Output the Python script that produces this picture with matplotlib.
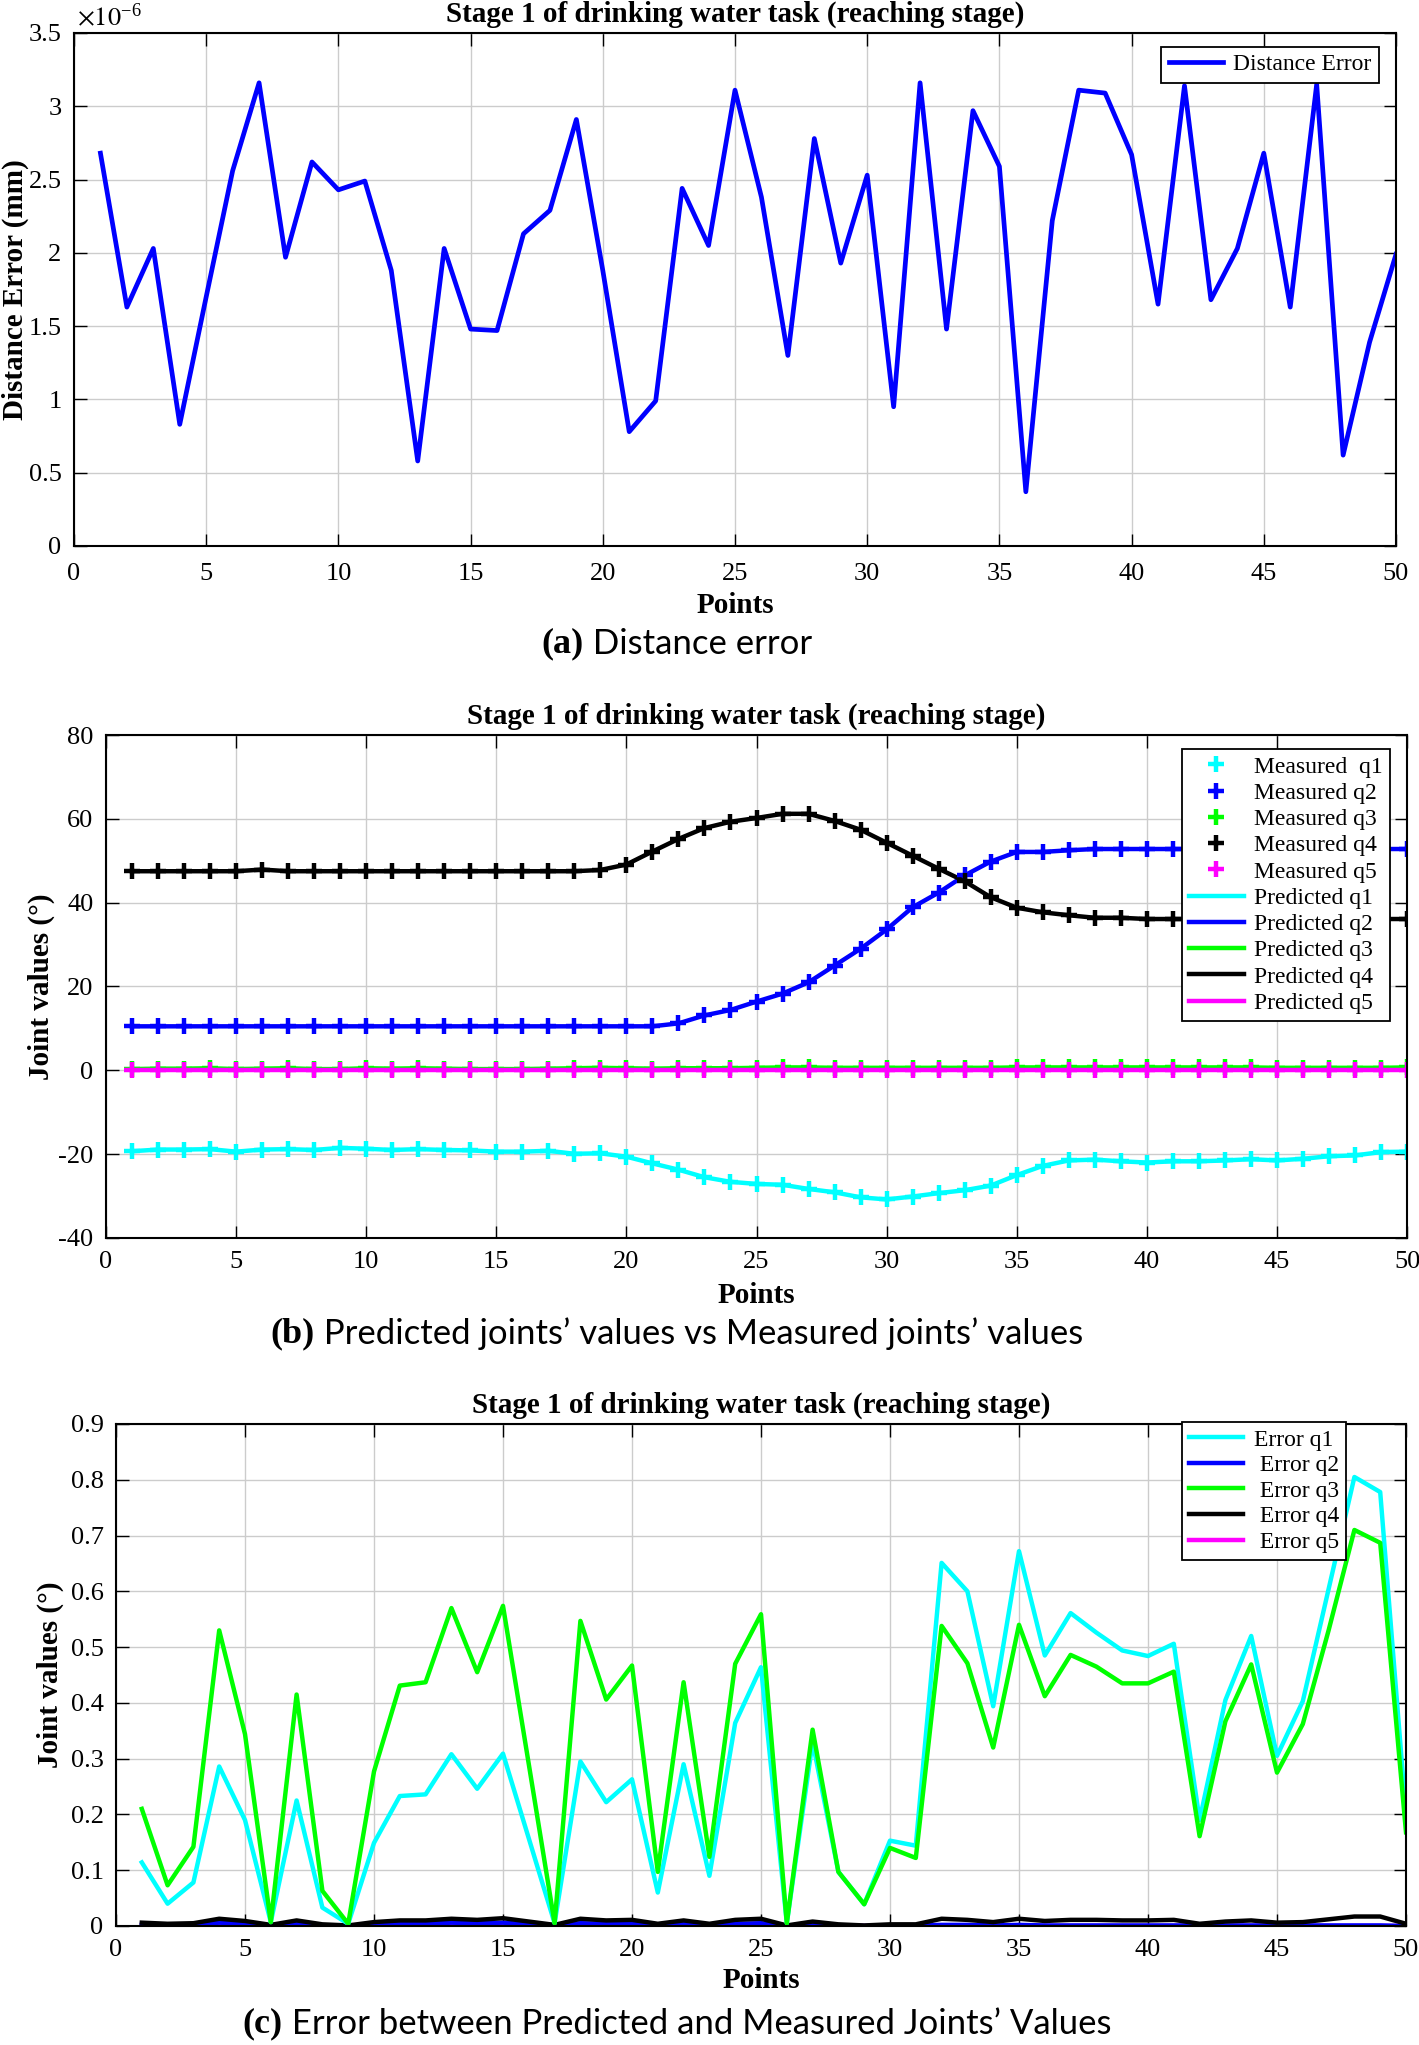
import matplotlib
matplotlib.use("Agg")
import matplotlib.pyplot as plt
from matplotlib.ticker import FuncFormatter, MultipleLocator
import numpy as np

plt.rcParams['font.family'] = ['Liberation Serif', 'DejaVu Serif']
plt.rcParams['mathtext.fontset'] = 'stix'
plt.rcParams['axes.unicode_minus'] = False

# ---------------- data ----------------
points = list(range(1, 51))

distance_error = [2.68, 1.63, 2.03, 0.83, 1.70, 2.56, 3.16, 1.97, 2.62, 2.43,
                  2.49, 1.88, 0.58, 2.03, 1.48, 1.47, 2.13, 2.29, 2.91, 1.88,
                  0.78, 0.99, 2.44, 2.05, 3.11, 2.38, 1.30, 2.78, 1.93, 2.53,
                  0.95, 3.16, 1.48, 2.97, 2.59, 0.37, 2.22, 3.11, 3.09, 2.67,
                  1.65, 3.14, 1.68, 2.03, 2.68, 1.63, 3.15, 0.62, 1.39, 1.99]
distance_scale = 1e-6

q1 = [-19.3, -18.9, -18.9, -18.8, -19.4, -18.9, -18.8, -19.0, -18.5, -18.7,
      -19.0, -18.8, -19.0, -19.1, -19.4, -19.4, -19.2, -19.9, -19.8, -20.6,
      -22.2, -23.7, -25.5, -26.6, -27.1, -27.3, -28.3, -29.1, -30.3, -30.8,
      -30.1, -29.3, -28.6, -27.5, -25.0, -22.8, -21.5, -21.3, -21.7, -22.0,
      -21.7, -21.7, -21.5, -21.2, -21.5, -21.1, -20.5, -20.3, -19.5, -19.4]
q2 = [10.5] * 21 + [11.2, 13.1, 14.4, 16.4, 18.3, 21.0, 25.0, 29.0, 33.6,
                    38.9, 42.4, 46.5, 49.8, 52.1, 52.1, 52.5, 52.8, 52.8, 52.8,
                    52.8, 52.8, 52.8, 52.8, 52.8, 52.8, 52.8, 52.8, 52.8, 52.8]
q3 = [0.3, 0.4, 0.4, 0.5, 0.3, 0.4, 0.5, 0.3, 0.3, 0.5,
      0.4, 0.5, 0.4, 0.3, 0.3, 0.3, 0.4, 0.5, 0.6, 0.5,
      0.4, 0.5, 0.5, 0.5, 0.6, 0.7, 0.7, 0.6, 0.6, 0.6,
      0.6, 0.6, 0.6, 0.6, 0.7, 0.7, 0.7, 0.7, 0.7, 0.7,
      0.7, 0.7, 0.7, 0.7, 0.6, 0.6, 0.6, 0.6, 0.6, 0.7]
q4 = [47.5, 47.5, 47.5, 47.5, 47.5, 47.9, 47.5, 47.5, 47.5, 47.5,
      47.5, 47.5, 47.5, 47.5, 47.5, 47.5, 47.5, 47.5, 47.8, 49.1,
      52.2, 55.2, 57.8, 59.3, 60.2, 61.2, 61.2, 59.5, 57.4, 54.3,
      51.2, 48.1, 45.1, 41.3, 38.8, 37.7, 37.0, 36.4, 36.4, 36.1,
      36.1, 36.1, 36.1, 36.1, 36.1, 36.1, 36.1, 36.1, 36.1, 36.1]
q5 = [0.0] * 50

err_q1 = [0.114, 0.040, 0.078, 0.286, 0.190, 0.007, 0.225, 0.033, 0.004, 0.149,
          0.233, 0.236, 0.308, 0.246, 0.309, 0.157, 0.005, 0.295, 0.222, 0.263,
          0.060, 0.290, 0.090, 0.364, 0.464, 0.005, 0.330, 0.097, 0.039, 0.153,
          0.144, 0.651, 0.600, 0.394, 0.672, 0.485, 0.561, 0.526, 0.494, 0.484,
          0.506, 0.190, 0.405, 0.520, 0.305, 0.403, 0.604, 0.805, 0.778, 0.200]
err_q2 = [0.002, 0.001, 0.002, 0.006, 0.004, 0.001, 0.004, 0.001, 0.000, 0.003,
          0.004, 0.004, 0.006, 0.005, 0.006, 0.003, 0.001, 0.005, 0.004, 0.005,
          0.001, 0.004, 0.001, 0.004, 0.005, 0.000, 0.003, 0.001, 0.000, 0.001,
          0.001, 0.002, 0.002, 0.001, 0.002, 0.001, 0.001, 0.001, 0.001, 0.001,
          0.001, 0.001, 0.001, 0.001, 0.001, 0.001, 0.001, 0.001, 0.001, 0.000]
err_q3 = [0.210, 0.073, 0.142, 0.530, 0.344, 0.007, 0.415, 0.063, 0.004, 0.277,
          0.431, 0.437, 0.570, 0.455, 0.574, 0.290, 0.005, 0.547, 0.406, 0.467,
          0.097, 0.437, 0.124, 0.470, 0.559, 0.005, 0.352, 0.097, 0.039, 0.140,
          0.122, 0.538, 0.471, 0.320, 0.540, 0.412, 0.486, 0.465, 0.435, 0.435,
          0.456, 0.161, 0.367, 0.469, 0.275, 0.362, 0.530, 0.710, 0.687, 0.168]
err_q4 = [0.006, 0.004, 0.005, 0.013, 0.009, 0.002, 0.010, 0.003, 0.001, 0.007,
          0.010, 0.010, 0.013, 0.011, 0.014, 0.008, 0.002, 0.013, 0.010, 0.011,
          0.004, 0.010, 0.004, 0.011, 0.013, 0.001, 0.008, 0.003, 0.001, 0.003,
          0.003, 0.013, 0.011, 0.007, 0.013, 0.009, 0.011, 0.011, 0.010, 0.010,
          0.011, 0.004, 0.008, 0.010, 0.006, 0.007, 0.012, 0.017, 0.017, 0.004]
err_q5 = [0.0] * 50

title = "Stage 1 of drinking water task (reaching stage)"
captions = [("(a)", " Distance error"),
            ("(b)", " Predicted joints\u2019 values vs Measured joints\u2019 values"),
            ("(c)", " Error between Predicted and Measured Joints\u2019 Values")]

# ---------------- figure ----------------
W, H = 1419, 2045
fig = plt.figure(figsize=(W / 100, H / 100), dpi=100)

def add_ax(left, top, right, bottom):
    return fig.add_axes([left / W, 1 - bottom / H, (right - left) / W, (bottom - top) / H])

ax_a = add_ax(74, 33, 1396, 546)
ax_b = add_ax(106, 735, 1407, 1238)
ax_c = add_ax(116, 1424, 1406, 1926)

TICK_FS = 19
LAB_FS = 21
LEG_FS = 17

def style(ax, tickpad=9, labelpad=2):
    ax.grid(True, color='#cccccc', linewidth=1.0)
    ax.set_axisbelow(True)
    ax.tick_params(direction='in', top=True, right=True, length=9, width=1.0,
                   labelsize=TICK_FS, pad=9)
    ax.tick_params(axis='x', pad=tickpad)
    for s in ax.spines.values():
        s.set_linewidth(1.5)
    ax.set_xlim(0, 50)
    ax.xaxis.set_major_locator(MultipleLocator(5))
    ax.set_title(title, fontsize=LAB_FS, fontweight='bold', pad=8)
    ax.set_xlabel("Points", fontsize=LAB_FS, fontweight='bold', labelpad=labelpad)

def legend(ax, handles, labels, anchor, spacing):
    lg = ax.legend(handles, labels, loc='upper right', bbox_to_anchor=anchor,
                   borderaxespad=0, fontsize=LEG_FS, fancybox=False,
                   edgecolor='black', framealpha=1, handlelength=2.3,
                   borderpad=0.3, handletextpad=0.45, labelspacing=spacing,
                   numpoints=1)
    lg.get_frame().set_linewidth(1.3)
    return lg

# panel a
dist = [v * distance_scale for v in distance_error]
la, = ax_a.plot(points, dist, color='#0000ff', linewidth=3.4)
style(ax_a, tickpad=12, labelpad=5)
ax_a.set_ylim(0, 3.5e-6)
ax_a.yaxis.set_major_locator(MultipleLocator(0.5e-6))
ax_a.yaxis.set_major_formatter(FuncFormatter(lambda v, p: f"{v / distance_scale:g}"))
ax_a.text(0.002, 1.004, r"$\times10^{\mathregular{-6}}$", transform=ax_a.transAxes,
          fontsize=TICK_FS, ha='left', va='bottom')
ax_a.set_ylabel("Distance Error (mm)", fontsize=LAB_FS, fontweight='bold')
ax_a.yaxis.set_label_coords(-0.034, 0.5)
legend(ax_a, [la], ["Distance Error"], (0.987, 0.973), 0.2)

# panel b
cols = ['#00ffff', '#0000ff', '#00ff00', '#000000', '#ff00ff']
qs = [q1, q2, q3, q4, q5]
meas_lbl = ["Measured  q1", "Measured q2", "Measured q3", "Measured q4", "Measured q5"]
pred_lbl = ["Predicted q1", "Predicted q2", "Predicted q3", "Predicted q4", "Predicted q5"]
lines_pred = []
lines_meas = []
for q, c in zip(qs, cols):
    l, = ax_b.plot(points, q, color=c, linewidth=3.2)
    lines_pred.append(l)
for q, c in zip(qs, cols):
    l, = ax_b.plot(points, q, linestyle='none', marker='+', markersize=12,
                   markeredgewidth=3.2, color=c)
    lines_meas.append(l)
style(ax_b, labelpad=7)
ax_b.set_ylim(-40, 80)
ax_b.yaxis.set_major_locator(MultipleLocator(20))
ax_b.set_ylabel("Joint values (\u00b0)", fontsize=LAB_FS, fontweight='bold')
ax_b.yaxis.set_label_coords(-0.039, 0.5)
legend(ax_b, lines_meas + lines_pred, meas_lbl + pred_lbl, (0.987, 0.972), 0.2)

# panel c
errs = [err_q1, err_q2, err_q3, err_q4, err_q5]
err_lbl = ["Error q1", " Error q2", " Error q3", " Error q4", " Error q5"]
handles = {}
for i in [4, 1, 3, 0, 2]:
    l, = ax_c.plot(points, errs[i], color=cols[i], linewidth=3.2)
    handles[i] = l
style(ax_c, labelpad=5)
ax_c.set_ylim(0, 0.9)
ax_c.yaxis.set_major_locator(MultipleLocator(0.1))
ax_c.yaxis.set_major_formatter(FuncFormatter(lambda v, p: f"{v:g}"))
ax_c.set_ylabel("Joint values (\u00b0)", fontsize=LAB_FS, fontweight='bold')
ax_c.yaxis.set_label_coords(-0.040, 0.5)
legend(ax_c, [handles[i] for i in range(5)], err_lbl, (0.9535, 1.004), 0.17)

# captions
cap_y = [644, 1334, 2024]
cap_cx = 677
renderer = fig.canvas.get_renderer()
for (bold, rest), y in zip(captions, cap_y):
    t1 = fig.text(0, 1 - y / H, bold, fontsize=26, fontweight='bold',
                  family=['Liberation Serif'], ha='left', va='center')
    t2 = fig.text(0, 1 - y / H, rest, fontsize=25,
                  family=['Lato', 'DejaVu Sans'], ha='left', va='center')
    w1 = t1.get_window_extent(renderer).width
    w2 = t2.get_window_extent(renderer).width
    x0 = cap_cx - (w1 + w2) / 2
    t1.set_x(x0 / W)
    t2.set_x((x0 + w1) / W)

fig.savefig("out.png", dpi=100)
